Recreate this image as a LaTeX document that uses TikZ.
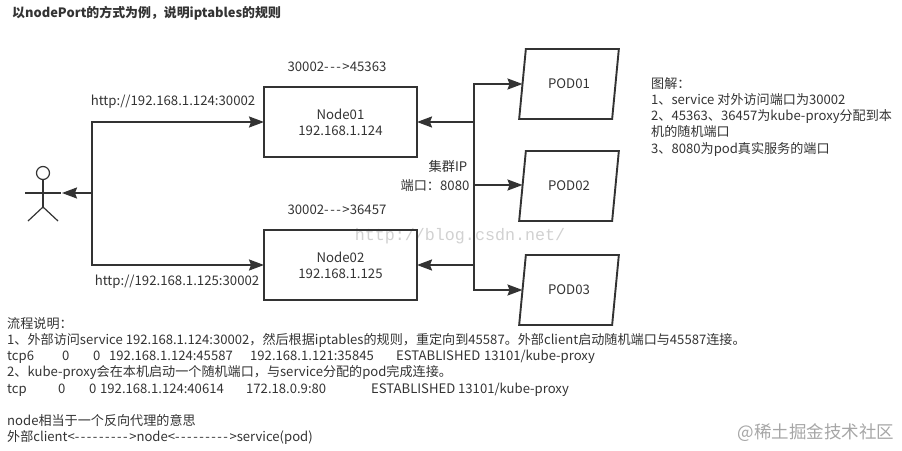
\documentclass[tikz,border=0pt]{standalone}
\usepackage{fontspec}
\defaultfontfeatures[\rmfamily]{}
\setmainfont{Noto Sans CJK SC}
\newfontfamily\markfont{Liberation Mono}
\usetikzlibrary{arrows.meta,shapes.geometric,positioning}
\definecolor{ink}{HTML}{333333}
\newcommand{\tcpcol}[2]{\makebox[#1pt][l]{#2}}
\newcommand{\dsh}{-\kern1.5pt}

\begin{document}
\begin{tikzpicture}[
    x=1pt, y=-1pt,
    hostbox/.style={draw=ink, line width=1.9pt, minimum width=153pt, minimum height=70pt, inner sep=0pt, outer sep=0pt, align=center, text=ink, font=\fontsize{13.2}{16}\selectfont},
    podbox/.style={draw=ink, line width=1.9pt, trapezium, trapezium left angle=72, trapezium right angle=108, trapezium stretches=true, minimum width=100pt, minimum height=70pt, inner sep=0pt, outer sep=0pt, text=ink, font=\fontsize{13.2}{15}\selectfont},
    arr/.style={-{Stealth[length=15pt, width=11pt, inset=2pt]}, line width=1.9pt, draw=ink},
    lbl/.style={text=ink, inner sep=0pt, font=\fontsize{13.2}{15}\selectfont},
    notes/.style={text=ink, inner sep=0pt, anchor=north west, align=left, font=\fontsize{13.1}{16.2}\selectfont},
    limb/.style={draw=ink, line width=1.2pt}
]
\useasboundingbox (0,0) rectangle (902,450);

\node[text=black!18, inner sep=0pt, font=\markfont\fontsize{16.7}{18}\selectfont] (csdn) at (460,236) {http://blog.csdn.net/};
\node[text=black!35, inner sep=0pt, font=\fontsize{17.5}{20}\selectfont] (juejin) at (816,433) {@稀土掘金技术社区};

\node[lbl, anchor=west, font=\fontsize{12.9}{15}\bfseries\selectfont] (title) at (12,13) {以nodePort的方式为例，说明iptables的规则};

\node[hostbox] (Node01) at (340.5,122) {Node01\\192.168.1.124};
\node[hostbox] (Node02) at (340.5,265) {Node02\\192.168.1.125};
\node[podbox] (POD01) at (569,84) {POD01};
\node[podbox] (POD02) at (569,186) {POD02};
\node[podbox] (POD03) at (569,290) {POD03};

\node[lbl] (map01) at (337,67) {30002\dsh\dsh\dsh>45363};
\node[lbl] (map02) at (337,210) {30002\dsh\dsh\dsh>36457};
\node[lbl] (url01) at (173,102) {http://192.168.1.124:30002};
\node[lbl] (url02) at (177,282) {http://192.168.1.125:30002};
\node[lbl] (vip) at (448,166) {集群IP};
\node[lbl] (vport) at (435,186) {端口：8080};

\node[draw=ink, line width=1.2pt, circle, minimum size=13pt, inner sep=0pt, outer sep=0pt] (head) at (43,173) {};
\coordinate (hip) at (43,207);
\coordinate (armL) at (25,193);
\coordinate (armR) at (61,193);
\coordinate (footL) at (28,221);
\coordinate (footR) at (58,221);
\draw[limb] (head) -- (hip);
\draw[limb] (armL) -- (armR);
\draw[limb] (footL) -- (hip) -- (footR);

\coordinate (actor) at (62,193);
\coordinate (hub) at (92,193);
\coordinate (bus) at (474,185);
\draw[arr] (hub) -- (actor);
\draw[arr] (hub) |- (Node01.west);
\draw[arr] (hub) |- (Node02.west);
\draw[arr] (bus) |- (Node01.east);
\draw[arr] (bus) |- (Node02.east);
\draw[arr] (bus) |- (POD01.180);
\draw[arr] (bus) -- (POD02.180 |- bus);
\draw[arr] (bus) |- (POD03.180);

\node[notes] (legend) at (651,77) {图解：\\
1、service 对外访问端口为30002\\
2、45363、36457为kube-proxy分配到本\\
机的随机端口\\
3、8080为pod真实服务的端口};

\node[notes] (flow) at (7,317) {流程说明：\\
1、外部访问service 192.168.1.124:30002，然后根据iptables的规则，重定向到45587。外部client启动随机端口与45587连接。\\
\tcpcol{55}{tcp6}\tcpcol{31}{0}\tcpcol{16}{0}\tcpcol{141}{192.168.1.124:45587}\tcpcol{146}{192.168.1.121:35845}\tcpcol{88}{ESTABLISHED}13101/kube-proxy\\
2、kube-proxy会在本机启动一个随机端口，与service分配的pod完成连接。\\
\tcpcol{51}{tcp}\tcpcol{31}{0}\tcpcol{11}{0}\tcpcol{146}{192.168.1.124:40614}\tcpcol{125}{172.18.0.9:80}\tcpcol{87}{ESTABLISHED}13101/kube-proxy\\[16.2pt]
node相当于一个反向代理的意思\\
外部client<\dsh\dsh\dsh\dsh\dsh\dsh\dsh\dsh\dsh>node<\dsh\dsh\dsh\dsh\dsh\dsh\dsh\dsh\dsh>service(pod)};
\end{tikzpicture}
\end{document}
